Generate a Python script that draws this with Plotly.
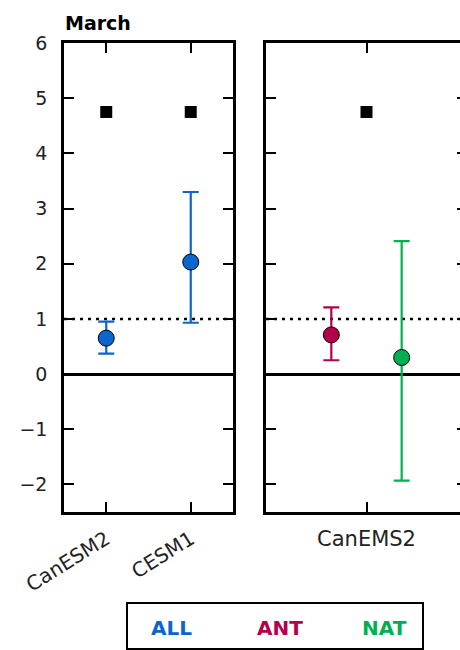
import plotly.graph_objects as go

# ---------------- data ----------------
title_text = "March"
models_left = ["CanESM2", "CESM1"]
all_mean = [0.65, 2.03]
all_low = [0.37, 0.93]
all_high = [0.95, 3.30]
obs_left = [4.75, 4.75]

models_right = ["CanEMS2"]
ant_mean = [0.71]
ant_low = [0.25]
ant_high = [1.21]
nat_mean = [0.30]
nat_low = [-1.93]
nat_high = [2.41]
obs_right = [4.75]

yticks = [-2, -1, 0, 1, 2, 3, 4, 5, 6]
ytick_labels = ["−2", "−1", "0", "1", "2", "3", "4", "5", "6"]
legend_names = ["ALL", "ANT", "NAT"]

# ---------------- style ----------------
W, H = 480, 650
COL = {"ALL": "#0a66cc", "ANT": "#b5004b", "NAT": "#00b050"}
FONT = "DejaVu Sans"
group_offset = 0.175


def px(x):
    return x / W


def py(y):
    return 1 - y / H


fig = go.Figure()


def err_trace(x, mean, low, high, name, xa, ya):
    return go.Scatter(
        x=x, y=mean, mode="markers", name=name, showlegend=False,
        xaxis=xa, yaxis=ya,
        marker=dict(size=16, color=COL[name], line=dict(color="black", width=1)),
        error_y=dict(type="data", symmetric=False,
                     array=[h - m for h, m in zip(high, mean)],
                     arrayminus=[m - l for m, l in zip(mean, low)],
                     color=COL[name], thickness=2.2, width=8),
    )


def obs_trace(x, vals, xa, ya):
    return go.Scatter(x=x, y=vals, mode="markers", showlegend=False,
                      xaxis=xa, yaxis=ya,
                      marker=dict(symbol="square", size=12, color="black"))


xl = list(range(len(models_left)))
xr = list(range(len(models_right)))
fig.add_trace(obs_trace(xl, obs_left, "x", "y"))
fig.add_trace(err_trace(xl, all_mean, all_low, all_high, "ALL", "x", "y"))
fig.add_trace(obs_trace(xr, obs_right, "x2", "y2"))
fig.add_trace(err_trace([v - group_offset for v in xr], ant_mean, ant_low, ant_high, "ANT", "x2", "y2"))
fig.add_trace(err_trace([v + group_offset for v in xr], nat_mean, nat_low, nat_high, "NAT", "x2", "y2"))

ydom = [py(512), py(43)]
axis_common = dict(showline=True, linecolor="black", linewidth=2.5, mirror="ticks",
                   ticks="inside", ticklen=10, tickwidth=1.5, tickcolor="black",
                   showgrid=False, automargin=False)

fig.update_layout(
    width=W, height=H, margin=dict(l=0, r=0, t=0, b=0, autoexpand=False),
    paper_bgcolor="white", plot_bgcolor="white",
    font=dict(family=FONT, color="#222222"),
    xaxis=dict(domain=[px(64), px(233)], range=[-0.5, 1.5], tickvals=xl, ticktext=models_left,
               tickangle=-32, zeroline=False, anchor="y", ticklabelstandoff=5,
               tickfont=dict(size=20, family=FONT), **axis_common),
    yaxis=dict(domain=ydom, range=[-2.5, 6], tickvals=yticks, ticktext=ytick_labels,
               zeroline=True, zerolinecolor="black", zerolinewidth=2.8, anchor="x",
               ticklabelstandoff=10, tickfont=dict(size=19, family=FONT), **axis_common),
    xaxis2=dict(domain=[px(266), px(467)], range=[-0.5, 0.5], tickvals=xr, ticktext=models_right,
                tickangle=0, zeroline=False, anchor="y2", ticklabelstandoff=6,
                tickfont=dict(size=21, family=FONT), **axis_common),
    yaxis2=dict(domain=ydom, range=[-2.5, 6], tickvals=yticks, showticklabels=False,
                zeroline=True, zerolinecolor="black", zerolinewidth=2.8, anchor="x2",
                **axis_common),
)

# reference dotted line at 1
for xr_, yr_ in (("x domain", "y"), ("x2 domain", "y2")):
    fig.add_shape(type="line", xref=xr_, yref=yr_, x0=0, x1=1, y0=1, y1=1,
                  line=dict(color="black", width=2.5, dash="3px,5px"), layer="below")

# title
fig.add_annotation(text="<b>" + title_text + "</b>", xref="paper", yref="paper",
                   x=px(63), y=py(23), xanchor="left", yanchor="middle", showarrow=False,
                   font=dict(size=19, family=FONT, color="black"))

# legend box
fig.add_shape(type="rect", xref="paper", yref="paper", x0=px(127), x1=px(423),
              y0=py(649), y1=py(603), line=dict(color="black", width=2))
for name, xc in zip(legend_names, (171, 280, 384)):
    fig.add_annotation(text="<b>" + name + "</b>", xref="paper", yref="paper",
                       x=px(xc), y=py(628), xanchor="center", yanchor="middle",
                       showarrow=False, font=dict(size=20, family=FONT, color=COL[name]))

fig.write_html("out.html",
               post_script="document.documentElement.style.overflow='hidden';document.body.style.overflow='hidden';")
